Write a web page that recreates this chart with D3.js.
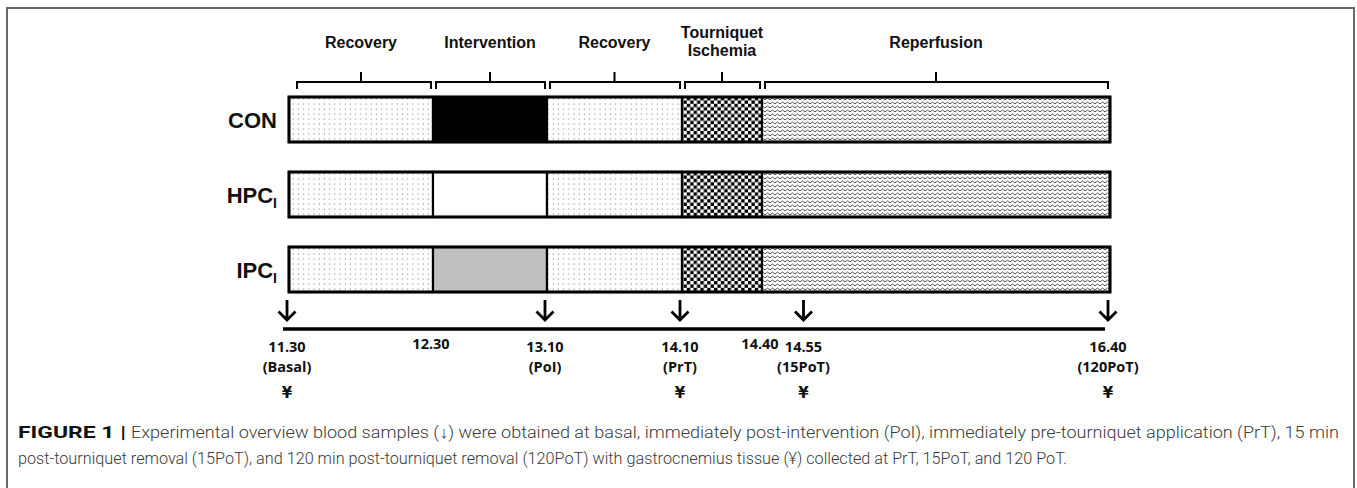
<!DOCTYPE html>
<html>
<head>
<meta charset="utf-8">
<script src="https://cdn.jsdelivr.net/npm/d3@7"></script>
<style>
  body { margin: 0; background: #fff; }
  svg { display: block; }
</style>
</head>
<body>
<svg id="chart" width="1357" height="488"></svg>
<script>
// study groups (row labels) and their subscripts
var groups = ["CON", "HPC", "IPC"];
var groupSub = ["", "I", "I"];

// phases of the protocol, times in minutes after 11.30
var phases = ["Recovery", "Intervention", "Recovery", "Tourniquet|Ischemia", "Reperfusion"];
var phaseStart = [0, 60, 100, 160, 190];
var phaseEnd = [60, 100, 160, 190, 310];

// timeline ticks
var timeMinutes = [0, 60, 100, 160, 190, 205, 310];
var timeLabels = ["11.30", "12.30", "13.10", "14.10", "14.40", "14.55", "16.40"];
var timeNotes = ["(Basal)", "", "(PoI)", "(PrT)", "", "(15PoT)", "(120PoT)"];

// sampling points
var bloodSamples = [0, 100, 160, 205, 310];
var tissueSamples = [0, 160, 205, 310];

var captionBold = "FIGURE 1 |";
var captionLine1 = "Experimental overview blood samples (\u2193) were obtained at basal, immediately post-intervention (PoI), immediately pre-tourniquet application (PrT), 15 min";
var captionLine2 = "post-tourniquet removal (15PoT), and 120 min post-tourniquet removal (120PoT) with gastrocnemius tissue (\u00a5) collected at PrT, 15PoT, and 120 PoT.";

var svg = d3.select('#chart');

// piecewise scale: time (min) -> x
var x = d3.scaleLinear()
    .domain([0, 60, 100, 160, 190, 310])
    .range([289, 433, 547, 682, 762, 1110]);

var y = d3.scaleBand()
    .domain(groups)
    .range([82, 307])
    .paddingInner(0.4)
    .paddingOuter(0.2);

// frame around the figure
svg.append('rect')
    .attr('x', 7).attr('y', 8)
    .attr('width', 1347).attr('height', 500)
    .attr('fill', 'none')
    .attr('stroke', '#6a6a6a')
    .attr('stroke-width', 2);

// patterns
var defs = svg.append('defs');

var dots = defs.append('pattern')
    .attr('id', 'dots')
    .attr('patternUnits', 'userSpaceOnUse')
    .attr('width', 5.2).attr('height', 5);
dots.append('rect').attr('width', 5.2).attr('height', 5).attr('fill', '#fff');
dots.append('rect').attr('x', 1.5).attr('y', 1.5).attr('width', 1.1).attr('height', 1.1).attr('fill', '#8a8a8a');

var checker = defs.append('pattern')
    .attr('id', 'checker')
    .attr('patternUnits', 'userSpaceOnUse')
    .attr('width', 6.8).attr('height', 6.8);
checker.append('rect').attr('width', 6.8).attr('height', 6.8).attr('fill', '#fff');
checker.append('rect').attr('width', 3.4).attr('height', 3.4).attr('fill', '#000');
checker.append('rect').attr('x', 3.4).attr('y', 3.4).attr('width', 3.4).attr('height', 3.4).attr('fill', '#000');

var zig = defs.append('pattern')
    .attr('id', 'zigzag')
    .attr('patternUnits', 'userSpaceOnUse')
    .attr('width', 5).attr('height', 4);
zig.append('rect').attr('width', 5).attr('height', 4).attr('fill', '#fff');
zig.append('path')
    .attr('d', 'M-0.1,3 L2.5,1 L5.1,3')
    .attr('fill', 'none')
    .attr('stroke', '#555')
    .attr('stroke-width', 1);

var interventionFill = {CON: '#000', HPC: '#fff', IPC: '#bfbfbf'};
function phaseFill(g, i) {
  if (i == 1) return interventionFill[g];
  if (i == 3) return 'url(#checker)';
  if (i == 4) return 'url(#zigzag)';
  return 'url(#dots)';
}

// bars
var rows = svg.append('g').selectAll('g')
    .data(groups)
    .enter().append('g')
    .attr('transform', function(d) { return 'translate(0,' + y(d) + ')'; });

rows.selectAll('rect.seg')
    .data(function(g) { return phases.map(function(p, i) { return {g: g, i: i}; }); })
    .enter().append('rect')
    .attr('class', 'seg')
    .attr('x', function(d) { return x(phaseStart[d.i]); })
    .attr('width', function(d) { return x(phaseEnd[d.i]) - x(phaseStart[d.i]); })
    .attr('height', y.bandwidth())
    .attr('fill', function(d) { return phaseFill(d.g, d.i); })
    .attr('stroke', '#000')
    .attr('stroke-width', 2.2);

rows.append('rect')
    .attr('x', x(0))
    .attr('width', x(310) - x(0))
    .attr('height', y.bandwidth())
    .attr('fill', 'none')
    .attr('stroke', '#000')
    .attr('stroke-width', 3);

// row labels
var lab = rows.append('text')
    .attr('x', 277)
    .attr('y', y.bandwidth() / 2 + 8)
    .attr('text-anchor', 'end')
    .attr('font-family', 'Liberation Sans, Arial, sans-serif')
    .attr('font-weight', 'bold')
    .attr('font-size', 22)
    .attr('fill', '#111');
lab.append('tspan').text(function(d) { return d; });
lab.append('tspan')
    .attr('font-size', 14)
    .attr('dy', 5)
    .text(function(d, i) { return groupSub[i]; });

// phase brackets on top
var br = svg.append('g').selectAll('g')
    .data(phases)
    .enter().append('g');

br.append('path')
    .attr('d', function(d, i) {
      var a = x(phaseStart[i]) + (i == 0 ? 8 : 3), b = x(phaseEnd[i]) - 2;
      var m = (x(phaseStart[i]) + x(phaseEnd[i])) / 2;
      return 'M' + a + ',89 L' + a + ',82 L' + b + ',82 L' + b + ',89 M' + m + ',82 L' + m + ',72';
    })
    .attr('fill', 'none')
    .attr('stroke', '#000')
    .attr('stroke-width', 2);

br.append('text')
    .attr('text-anchor', 'middle')
    .attr('font-family', 'Liberation Sans, Arial, sans-serif')
    .attr('font-weight', 'bold')
    .attr('font-size', 16)
    .attr('fill', '#111')
    .each(function(d, i) {
      var parts = d.split('|');
      var cx = (x(phaseStart[i]) + x(phaseEnd[i])) / 2;
      var y0 = parts.length > 1 ? 38 : 48;
      var t = d3.select(this);
      parts.forEach(function(p, k) {
        t.append('tspan').attr('x', cx).attr('y', y0 + k * 18).text(p);
      });
    });

// timeline
svg.append('line')
    .attr('x1', x(0) - 6).attr('x2', x(310) - 5)
    .attr('y1', 329).attr('y2', 329)
    .attr('stroke', '#000')
    .attr('stroke-width', 3.5);

// blood sample arrows
svg.append('g').selectAll('path')
    .data(bloodSamples)
    .enter().append('path')
    .attr('d', function(t) {
      var cx = x(t) - 2;
      return 'M' + cx + ',300 L' + cx + ',320 M' + (cx - 8.5) + ',311.5 L' + cx + ',320 L' + (cx + 8.5) + ',311.5';
    })
    .attr('fill', 'none')
    .attr('stroke', '#000')
    .attr('stroke-width', 2.8);

// time labels
var tl = svg.append('g').selectAll('text')
    .data(timeMinutes)
    .enter().append('text')
    .attr('text-anchor', 'middle')
    .attr('font-family', 'Open Sans, Lato, sans-serif')
    .attr('font-weight', 'bold')
    .attr('font-size', 14.5)
    .attr('fill', '#111');
tl.append('tspan')
    .attr('x', function(t) { return x(t) - 2; })
    .attr('y', function(t, i) { return timeNotes[i] ? 352 : 349; })
    .text(function(t, i) { return timeLabels[i]; });
tl.append('tspan')
    .attr('x', function(t) { return x(t) - 2; })
    .attr('y', 372)
    .text(function(t, i) { return timeNotes[i]; });

// tissue samples
svg.append('g').selectAll('text')
    .data(tissueSamples)
    .enter().append('text')
    .attr('x', function(t) { return x(t) - 2; })
    .attr('y', 398)
    .attr('text-anchor', 'middle')
    .attr('font-family', 'DejaVu Sans, sans-serif')
    .attr('font-weight', 'bold')
    .attr('font-size', 15)
    .attr('fill', '#111')
    .text('\u00a5');

// caption
var cap = svg.append('g')
    .attr('font-family', 'Roboto, Liberation Sans, sans-serif')
    .attr('font-size', 16.5);
cap.append('text')
    .attr('x', 18).attr('y', 438)
    .attr('font-weight', 'bold')
    .attr('fill', '#111')
    .attr('textLength', 108)
    .attr('lengthAdjust', 'spacingAndGlyphs')
    .text(captionBold);
cap.append('text')
    .attr('x', 131).attr('y', 438)
    .attr('fill', '#3a3a3a')
    .attr('font-weight', 300)
    .attr('textLength', 1208)
    .attr('lengthAdjust', 'spacingAndGlyphs')
    .text(captionLine1);
cap.append('text')
    .attr('x', 18).attr('y', 464)
    .attr('fill', '#3a3a3a')
    .attr('font-weight', 300)
    .attr('textLength', 1049)
    .attr('lengthAdjust', 'spacingAndGlyphs')
    .text(captionLine2);
</script>
</body>
</html>
